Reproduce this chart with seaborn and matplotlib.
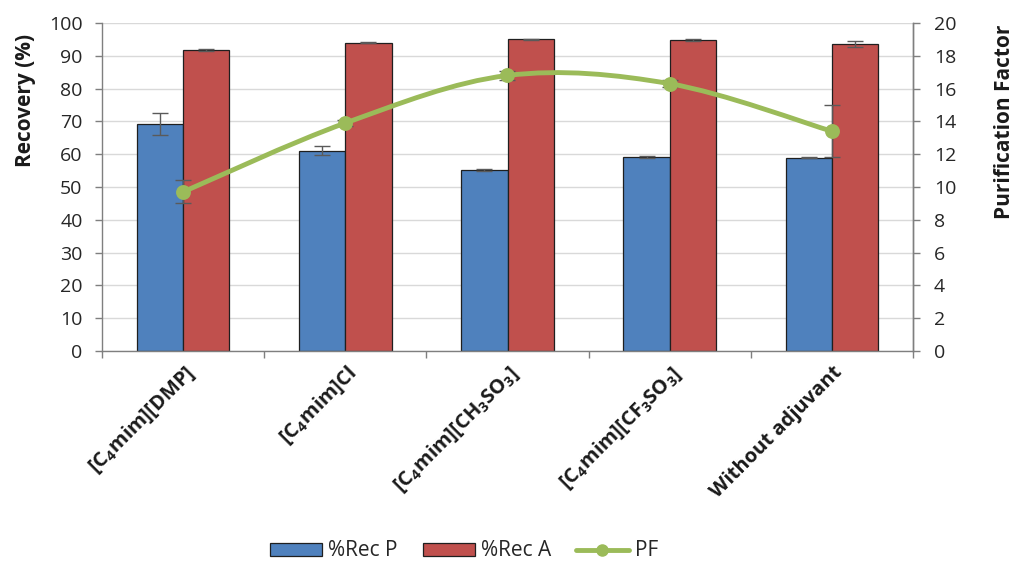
import numpy as np
import pandas as pd
import matplotlib
matplotlib.use("Agg")
import matplotlib.pyplot as plt
import seaborn as sns
from matplotlib.path import Path
from matplotlib.patches import PathPatch, Patch
from matplotlib.lines import Line2D

# ---- data ----
categories = [r"[C$_\mathbf{4}$mim][DMP]", r"[C$_\mathbf{4}$mim]Cl",
              r"[C$_\mathbf{4}$mim][CH$_\mathbf{3}$SO$_\mathbf{3}$]",
              r"[C$_\mathbf{4}$mim][CF$_\mathbf{3}$SO$_\mathbf{3}$]",
              "Without adjuvant"]
rec_p = [69.2, 61.1, 55.2, 59.1, 58.9]
rec_p_err = [3.4, 1.3, 0.3, 0.2, 0.2]
rec_a = [91.8, 94.0, 95.0, 94.8, 93.6]
rec_a_err = [0.4, 0.1, 0.1, 0.2, 1.0]
pf = [9.7, 13.9, 16.8, 16.3, 13.4]
pf_err = [0.7, 0.2, 0.3, 0.2, 1.6]

series_names = ["%Rec P", "%Rec A"]
blue, red, green = "#4F81BD", "#C0504D", "#9BBB59"
axis_grey = "#7F7F7F"

sns.set_theme(style="white")
plt.rcParams["font.family"] = ["Open Sans", "DejaVu Sans"]
plt.rcParams["mathtext.fontset"] = "custom"
plt.rcParams["mathtext.rm"] = "Open Sans"
plt.rcParams["mathtext.bf"] = "Open Sans:bold"

df = pd.DataFrame({
    "category": categories * 2,
    "series": [series_names[0]] * 5 + [series_names[1]] * 5,
    "value": rec_p + rec_a,
})

W, H = 1019, 562
fig = plt.figure(figsize=(W / 100, H / 100), dpi=100)
ax = fig.add_axes([102 / W, 1 - 351 / H, 811 / W, 328 / H])

sns.barplot(data=df, x="category", y="value", hue="series", order=categories,
            hue_order=series_names, palette=[blue, red], width=0.572,
            gap=0, errorbar=None, edgecolor="#1F1F1F", linewidth=0.9,
            saturation=1, legend=False, ax=ax)

# error bars at the bar centres
errs = rec_p_err + rec_a_err
vals = rec_p + rec_a
for bar, v, e in zip(list(ax.patches), vals, errs):
    cx = bar.get_x() + bar.get_width() / 2
    ax.errorbar(cx, v, yerr=e, fmt="none", ecolor="#5A5A5A", elinewidth=1,
                capsize=6, capthick=1, zorder=4)

ax.set_ylim(0, 100)
ax.set_xlim(-0.5, len(categories) - 0.5)
ax.set_yticks(np.arange(0, 101, 10))
ax.yaxis.grid(True, color="#D9D9D9", linewidth=1)
ax.set_axisbelow(True)
ax.set_ylabel("")
ax.set_xlabel("")
ax.tick_params(axis="y", which="major", direction="out", length=5, width=1,
               color=axis_grey, left=True, labelsize=14, labelcolor="#262626", pad=9)

# category labels, tick marks between categories
ax.set_xticks(range(len(categories)))
ax.set_xticklabels(categories, rotation=45, ha="right", rotation_mode="anchor",
                   fontsize=14.5, fontweight="bold", color="#1A1A1A")
ax.tick_params(axis="x", which="major", length=0, pad=8)
ax.set_xticks(np.arange(-0.5, len(categories), 1.0), minor=True)
ax.tick_params(axis="x", which="minor", direction="out", length=5, width=1,
               color=axis_grey, bottom=True)

for side in ["left", "bottom", "right"]:
    ax.spines[side].set_color(axis_grey)
    ax.spines[side].set_linewidth(1)
ax.spines["top"].set_visible(False)

# secondary axis for purification factor
ax2 = ax.twinx()
ax2.set_ylim(0, 20)
ax2.set_yticks(np.arange(0, 21, 2))
ax2.tick_params(axis="y", direction="out", length=5, width=1, color=axis_grey,
                right=True, labelsize=14, labelcolor="#262626", pad=10)
for side in ["left", "bottom", "top"]:
    ax2.spines[side].set_visible(False)
ax2.spines["right"].set_color(axis_grey)
ax2.spines["right"].set_linewidth(1)
ax2.grid(False)

# axis titles
fig.text(25 / W, 1 - 100 / H, "Recovery (%)", rotation=90, ha="center",
         va="center", fontsize=15, fontweight="bold", color="#1A1A1A")
fig.text(1004 / W, 1 - 122 / H, "Purification Factor", rotation=90,
         ha="center", va="center", fontsize=15, fontweight="bold",
         color="#1A1A1A")

# smoothed PF line (cubic Bezier segments through the points)
xs = np.arange(len(pf), dtype=float)
pts = np.column_stack([xs, pf])
verts = [tuple(pts[0])]
codes = [Path.MOVETO]
n = len(pts)
for i in range(n - 1):
    p0 = pts[max(i - 1, 0)]
    p1 = pts[i]
    p2 = pts[i + 1]
    p3 = pts[min(i + 2, n - 1)]
    c1 = p1 + (p2 - p0) / 6.0
    c2 = p2 - (p3 - p1) / 6.0
    verts += [tuple(c1), tuple(c2), tuple(p2)]
    codes += [Path.CURVE4] * 3
ax2.add_patch(PathPatch(Path(verts, codes), fill=False, edgecolor=green,
                        linewidth=3.5, capstyle="round", zorder=5))
ax2.errorbar(xs, pf, yerr=pf_err, fmt="none", ecolor="#5A5A5A", elinewidth=1,
             capsize=6, capthick=1, zorder=4)
sns.scatterplot(x=xs, y=pf, color=green, s=115, edgecolor=green, linewidth=0,
                zorder=6, ax=ax2, legend=False)

handles = [
    Patch(facecolor=blue, edgecolor="#1F1F1F", linewidth=0.9, label="%Rec P"),
    Patch(facecolor=red, edgecolor="#1F1F1F", linewidth=0.9, label="%Rec A"),
    Line2D([], [], color=green, linewidth=3.5, marker="o", markersize=8,
           label="PF"),
]
fig.legend(handles=handles, loc="center", bbox_to_anchor=(464 / W, 1 - 551 / H),
           ncol=3, frameon=False, fontsize=15, handlelength=2.5,
           handleheight=0.6, columnspacing=1.2, handletextpad=0.3,
           borderpad=0, borderaxespad=0)

fig.savefig("out.png", dpi=100, facecolor="white")
